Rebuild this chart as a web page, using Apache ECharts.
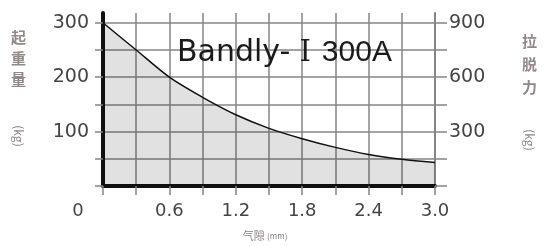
<!DOCTYPE html>
<html>
<head>
<meta charset="utf-8">
<script src="https://cdn.jsdelivr.net/npm/echarts@6/dist/echarts.min.js"></script>
<style>
  html, body { margin: 0; padding: 0; background: #fff; }
  #chart { width: 544px; height: 246px; }
</style>
</head>
<body>
<div id="chart"></div>
<script>
// 气隙 (mm) 与 起重量 (kg)
const gapMm = [0, 0.3, 0.6, 0.9, 1.2, 1.5, 1.8, 2.1, 2.4, 2.7, 3.0]
const liftKg = [300, 250, 200, 163, 131, 106, 87, 71, 58, 49, 43]

const xTicks = [0, 0.3, 0.6, 0.9, 1.2, 1.5, 1.8, 2.1, 2.4, 2.7, 3.0]
const xLabels = [0, 0.6, 1.2, 1.8, 2.4, 3.0]
const leftTicks = [0, 50, 100, 150, 200, 250, 300]
const leftLabels = [100, 200, 300]
const rightTicks = [0, 150, 300, 450, 600, 750, 900]
const rightLabels = [300, 600, 900]

const gridColor = '#8a8484'
const labelFont = 'DejaVu Sans'

const chart = echarts.init(document.getElementById('chart'))
chart.setOption({
  animation: false,
  backgroundColor: '#fff',
  grid: { left: 103, right: 109, top: 13, bottom: 60 },
  title: {
    text: '{a|Bandly-}{r|Ⅰ}{b|300A}',
    left: 172,
    top: 33,
    textStyle: {
      fontFamily: 'Liberation Sans',
      fontSize: 30,
      fontWeight: 'normal',
      color: '#1a1a1a',
      rich: {
        a: { fontFamily: 'DejaVu Sans', fontSize: 30, color: '#1a1a1a' },
        r: { fontFamily: 'DejaVu Serif', fontSize: 29, color: '#1a1a1a', padding: [0, 11, 0, 9] },
        b: { fontFamily: 'Liberation Sans', fontSize: 30, color: '#1a1a1a' }
      }
    }
  },
  xAxis: {
    type: 'value',
    min: 0,
    max: 3,
    axisLine: { lineStyle: { color: '#111', width: 4 } },
    axisTick: {
      customValues: xTicks,
      length: 9,
      lineStyle: { color: gridColor, width: 1.5 }
    },
    splitLine: { show: true, lineStyle: { color: gridColor, width: 1.5 } },
    axisLabel: {
      customValues: xLabels,
      margin: 16,
      fontFamily: labelFont,
      fontSize: 18,
      color: '#444',
      formatter: function (v) {
        return v === 0 ? '{z|0}' : v.toFixed(1)
      },
      rich: {
        z: { fontFamily: labelFont, fontSize: 18, color: '#444', padding: [0, 50, 0, 0] }
      }
    },
    name: '气隙 {s|(mm)}',
    nameLocation: 'middle',
    nameGap: 44,
    nameTextStyle: {
      fontFamily: 'Noto Sans CJK SC',
      fontSize: 11,
      color: '#8a8080',
      padding: [0, 8, 0, 0],
      rich: { s: { fontSize: 8, color: '#8a8080' } }
    }
  },
  yAxis: [
    {
      type: 'value',
      min: 0,
      max: 318,
      axisLine: { show: true, lineStyle: { color: '#111', width: 4 } },
      axisTick: {
        show: true,
        customValues: leftTicks,
        length: 8,
        lineStyle: { color: gridColor, width: 1.5 }
      },
      splitLine: { show: true, lineStyle: { color: gridColor, width: 1.5 } },
      axisLabel: {
        customValues: leftLabels,
        margin: 14,
        fontFamily: labelFont,
        fontSize: 19,
        color: '#444'
      }
    },
    {
      type: 'value',
      min: 0,
      max: 954,
      position: 'right',
      axisLine: { show: true, lineStyle: { color: gridColor, width: 2 } },
      axisTick: {
        show: true,
        customValues: rightTicks,
        length: 12,
        lineStyle: { color: gridColor, width: 1.5 }
      },
      splitLine: { show: false },
      axisLabel: {
        customValues: rightLabels,
        margin: 14,
        fontFamily: labelFont,
        fontSize: 19,
        color: '#444'
      }
    }
  ],
  graphic: [
    {
      type: 'text',
      left: 11,
      top: 27,
      style: {
        text: '起\n重\n量',
        fontFamily: 'Noto Sans CJK SC',
        fontWeight: 'bold',
        fontSize: 15,
        lineHeight: 21,
        fill: '#928888'
      }
    },
    {
      type: 'text',
      x: 19,
      y: 136,
      rotation: -Math.PI / 2,
      style: {
        text: '(kg)',
        fontFamily: 'Noto Sans CJK SC',
        fontSize: 12,
        fill: '#928888',
        align: 'center',
        verticalAlign: 'middle'
      }
    },
    {
      type: 'text',
      left: 522,
      top: 30,
      style: {
        text: '拉\n脱\n力',
        fontFamily: 'Noto Sans CJK SC',
        fontWeight: 'bold',
        fontSize: 15,
        lineHeight: 23,
        fill: '#928888'
      }
    },
    {
      type: 'text',
      x: 530,
      y: 140,
      rotation: -Math.PI / 2,
      style: {
        text: '(kg)',
        fontFamily: 'Noto Sans CJK SC',
        fontSize: 12,
        fill: '#928888',
        align: 'center',
        verticalAlign: 'middle'
      }
    }
  ],
  series: [{
    type: 'line',
    smooth: 0.3,
    showSymbol: false,
    data: gapMm.map((g, i) => [g, liftKg[i]]),
    lineStyle: { color: '#111', width: 1.5 },
    areaStyle: { color: 'rgba(0,0,0,0.17)' }
  }]
})
</script>
</body>
</html>
